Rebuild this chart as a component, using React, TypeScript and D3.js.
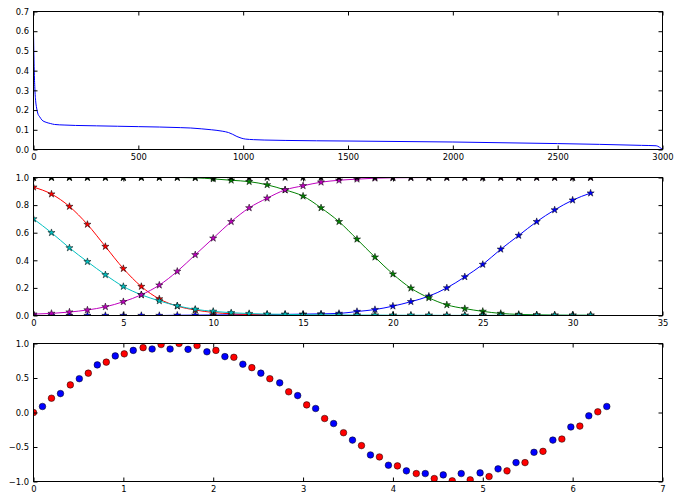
import { useEffect, useRef } from 'react';
import * as d3 from 'd3';

// top panel: decaying curve
const lossX = [0, 3, 6, 10, 15, 20, 30, 40, 60, 80, 100, 150, 200, 300, 400, 500, 600, 700, 750, 800, 850, 900, 930, 950, 970, 990, 1010, 1050, 1100, 1200, 1500, 2000, 2500, 2700, 2900, 2970, 2985, 3000];
const lossY = [0.6, 0.42, 0.32, 0.25, 0.21, 0.185, 0.165, 0.15, 0.138, 0.132, 0.127, 0.124, 0.122, 0.12, 0.118, 0.116, 0.114, 0.111, 0.109, 0.105, 0.1, 0.093, 0.086, 0.077, 0.066, 0.058, 0.053, 0.05, 0.048, 0.046, 0.043, 0.038, 0.03, 0.026, 0.021, 0.019, 0.012, 0.0];
const lossXTicks = [0, 500, 1000, 1500, 2000, 2500, 3000];
const lossYTicks = [0, 0.1, 0.2, 0.3, 0.4, 0.5, 0.6, 0.7];

// middle panel: star-marked series
const steps = [0, 1, 2, 3, 4, 5, 6, 7, 8, 9, 10, 11, 12, 13, 14, 15, 16, 17, 18, 19, 20, 21, 22, 23, 24, 25, 26, 27, 28, 29, 30, 31];
const blueSeries = [0, 0, 0, 0, 0, 0, 0, 0, 0.002, 0.003, 0.004, 0.005, 0.006, 0.007, 0.008, 0.01, 0.012, 0.015, 0.029, 0.043, 0.068, 0.1, 0.14, 0.2, 0.28, 0.37, 0.48, 0.58, 0.68, 0.765, 0.836, 0.887];
const greenSeries = [1, 1, 1, 1, 1, 1, 1, 1, 1, 0.998, 0.99, 0.98, 0.97, 0.947, 0.91, 0.865, 0.78, 0.68, 0.553, 0.423, 0.3, 0.198, 0.128, 0.077, 0.05, 0.03, 0.015, 0.008, 0.005, 0.003, 0.002, 0.002];
const redSeries = [0.93, 0.88, 0.79, 0.66, 0.5, 0.34, 0.21, 0.12, 0.068, 0.04, 0.022, 0.012, 0.007, 0.004, 0.002, 0.001, 0.001, 0, 0, 0, 0, 0, 0, 0, 0, 0, 0, 0, 0, 0, 0, 0];
const cyanSeries = [0.7, 0.6, 0.49, 0.39, 0.295, 0.21, 0.15, 0.106, 0.07, 0.045, 0.03, 0.02, 0.014, 0.01, 0.008, 0.006, 0.005, 0.004, 0.003, 0.003, 0.002, 0.002, 0.002, 0.001, 0.001, 0.001, 0.001, 0.001, 0.001, 0.001, 0.001, 0.001];
const magentaSeries = [0.01, 0.015, 0.025, 0.04, 0.063, 0.1, 0.15, 0.22, 0.32, 0.44, 0.56, 0.68, 0.78, 0.85, 0.91, 0.94, 0.966, 0.98, 0.988, 0.995, 0.998, 0.999, 1, 1, 1, 1, 1, 1, 1, 1, 1, 1];
const blackSeries = [1, 1, 1, 1, 1, 1, 1, 1, 1, 1, 1, 1, 1, 1, 1, 1, 1, 1, 1, 1, 1, 1, 1, 1, 1, 1, 1, 1, 1, 1, 1, 1];
const stepXTicks = [0, 5, 10, 15, 20, 25, 30, 35];
const stepYTicks = [0, 0.2, 0.4, 0.6, 0.8, 1.0];

// bottom panel: alternating red / blue dots
const redDotX = [0, 0.2, 0.41, 0.61, 0.81, 1.01, 1.22, 1.42, 1.62, 1.82, 2.03, 2.23, 2.43, 2.63, 2.84, 3.04, 3.24, 3.45, 3.65, 3.85, 4.05, 4.26, 4.46, 4.66, 4.86, 5.07, 5.27, 5.47, 5.67, 5.88, 6.08, 6.28];
const redDotY = [0, 0.207, 0.4, 0.57, 0.73, 0.85, 0.94, 0.985, 1.0, 0.97, 0.9, 0.8, 0.65, 0.49, 0.3, 0.11, -0.087, -0.293, -0.48, -0.644, -0.774, -0.885, -0.957, -0.99, -0.976, -0.928, -0.846, -0.726, -0.563, -0.385, -0.197, 0.01];
const blueDotX = [0.1, 0.3, 0.51, 0.71, 0.91, 1.11, 1.32, 1.52, 1.72, 1.93, 2.13, 2.33, 2.53, 2.74, 2.94, 3.14, 3.34, 3.55, 3.75, 3.95, 4.15, 4.36, 4.56, 4.76, 4.97, 5.17, 5.37, 5.57, 5.78, 5.98, 6.18, 6.38];
const blueDotY = [0.087, 0.274, 0.49, 0.69, 0.82, 0.9, 0.92, 0.92, 0.915, 0.88, 0.81, 0.7, 0.57, 0.43, 0.245, 0.058, -0.16, -0.4, -0.615, -0.764, -0.846, -0.885, -0.904, -0.885, -0.875, -0.817, -0.726, -0.577, -0.4, -0.21, -0.048, 0.087];
const dotXTicks = [0, 1, 2, 3, 4, 5, 6, 7];
const dotYTicks = [-1.0, -0.5, 0.0, 0.5, 1.0];

const App = () => {
    const svgRef = useRef<SVGSVGElement>(null);

    useEffect(() => {
        if (!svgRef.current) return;
        const svg = d3.select(svgRef.current);
        svg.selectAll('*').remove();

        const left = 33.5;
        const right = 662.5;
        const panelH = 138;
        const tops = [11.5, 177.5, 343.5];
        const font = '"DejaVu Sans", sans-serif';

        // frame, inward ticks on all four sides, labels on left/bottom
        const drawAxes = (
            g: d3.Selection<SVGGElement, unknown, null, undefined>,
            x: d3.ScaleLinear<number, number>,
            y: d3.ScaleLinear<number, number>,
            xTicks: number[],
            yTicks: number[],
            xFmt: (d: number) => string,
            yFmt: (d: number) => string
        ) => {
            const w = right - left;
            const styleAxis = (a: d3.Selection<SVGGElement, unknown, null, undefined>) => {
                a.select('.domain').remove();
                a.selectAll('line').attr('stroke', '#000').attr('stroke-width', 1);
                a.selectAll('text').attr('fill', '#000').style('font-family', font).style('font-size', '8.4px');
            };
            g.append('g').attr('transform', `translate(0,${panelH})`)
                .call(d3.axisBottom(x).tickValues(xTicks).tickSize(-4).tickPadding(5).tickFormat(d => xFmt(d as number)))
                .call(styleAxis);
            g.append('g')
                .call(d3.axisTop(x).tickValues(xTicks).tickSize(-4).tickFormat(() => ''))
                .call(styleAxis);
            g.append('g')
                .call(d3.axisLeft(y).tickValues(yTicks).tickSize(-4).tickPadding(4.5).tickFormat(d => yFmt(d as number)))
                .call(styleAxis);
            g.append('g').attr('transform', `translate(${w},0)`)
                .call(d3.axisRight(y).tickValues(yTicks).tickSize(-4).tickFormat(() => ''))
                .call(styleAxis);
            g.append('rect')
                .attr('width', w).attr('height', panelH)
                .attr('fill', 'none').attr('stroke', '#000').attr('stroke-width', 1);
        };

        const makePanel = (i: number) => {
            const g = svg.append('g').attr('transform', `translate(${left},${tops[i]})`);
            svg.append('clipPath').attr('id', `clip${i}`)
                .append('rect').attr('width', right - left).attr('height', panelH);
            const plot = g.append('g').attr('clip-path', `url(#clip${i})`);
            return { g, plot };
        };

        // ---- panel 1
        {
            const { g, plot } = makePanel(0);
            const x = d3.scaleLinear().domain([0, 3000]).range([0, right - left]);
            const y = d3.scaleLinear().domain([0, 0.7]).range([panelH, 0]);
            const line = d3.line<number>()
                .x((_, k) => x(lossX[k]))
                .y(d => y(d))
                .curve(d3.curveMonotoneX);
            plot.append('path').datum(lossY).attr('d', line)
                .attr('fill', 'none').attr('stroke', '#0000ff').attr('stroke-width', 1);
            drawAxes(g, x, y, lossXTicks, lossYTicks, d3.format('d'), d3.format('.1f'));
        }

        // ---- panel 2
        {
            const { g, plot } = makePanel(1);
            const x = d3.scaleLinear().domain([0, 35]).range([0, right - left]);
            const y = d3.scaleLinear().domain([0, 1]).range([panelH, 0]);
            const line = d3.line<number>()
                .x((_, k) => x(steps[k]))
                .y(d => y(d))
                .curve(d3.curveMonotoneX);
            const star = d3.symbol().type(d3.symbolStar).size(16);
            const series: [number[], string][] = [
                [blueSeries, '#0000ff'],
                [greenSeries, '#008000'],
                [redSeries, '#ff0000'],
                [cyanSeries, '#00bfbf'],
                [magentaSeries, '#bf00bf'],
                [blackSeries, '#000000'],
            ];
            series.forEach(([vals, color]) => {
                plot.append('path').datum(vals).attr('d', line)
                    .attr('fill', 'none').attr('stroke', color).attr('stroke-width', 1);
                plot.append('g').selectAll('path').data(vals).join('path')
                    .attr('d', star)
                    .attr('transform', (d, k) => `translate(${x(steps[k])},${y(d)})`)
                    .attr('fill', color).attr('stroke', '#000').attr('stroke-width', 0.5);
            });
            drawAxes(g, x, y, stepXTicks, stepYTicks, d3.format('d'), d3.format('.1f'));
        }

        // ---- panel 3
        {
            const { g, plot } = makePanel(2);
            const x = d3.scaleLinear().domain([0, 7]).range([0, right - left]);
            const y = d3.scaleLinear().domain([-1, 1]).range([panelH, 0]);
            const groups: [number[], number[], string][] = [
                [redDotX, redDotY, '#ff0000'],
                [blueDotX, blueDotY, '#0000ff'],
            ];
            groups.forEach(([xs, ys, color]) => {
                plot.append('g').selectAll('circle').data(ys).join('circle')
                    .attr('cx', (_, k) => x(xs[k]))
                    .attr('cy', d => y(d))
                    .attr('r', 3.3)
                    .attr('fill', color).attr('stroke', '#000').attr('stroke-width', 0.5);
            });
            drawAxes(g, x, y, dotXTicks, dotYTicks, d3.format('d'), d3.format('.1f'));
        }
    }, []);

    return (
        <svg
            ref={svgRef}
            width={680}
            height={502}
            style={{ position: 'absolute', left: 0, top: 0, background: '#fff' }}
        />
    );
};

export default App;
